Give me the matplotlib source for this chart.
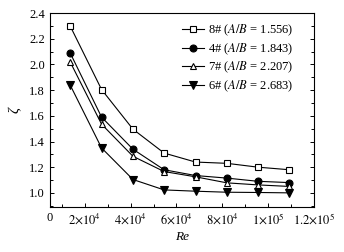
import matplotlib
matplotlib.use("Agg")
import matplotlib.pyplot as plt
from matplotlib.ticker import MultipleLocator, FixedLocator

plt.rcParams['font.family'] = ['Liberation Serif', 'DejaVu Serif']
plt.rcParams['mathtext.fontset'] = 'stix'

re_vals = [1.36e4, 2.73e4, 4.1e4, 5.46e4, 6.83e4, 8.2e4, 9.56e4, 10.93e4]
s8 = [2.30, 1.805, 1.496, 1.31, 1.24, 1.23, 1.20, 1.18]
s4 = [2.09, 1.59, 1.34, 1.18, 1.135, 1.115, 1.09, 1.08]
s7 = [2.02, 1.535, 1.285, 1.166, 1.125, 1.078, 1.062, 1.05]
s6 = [1.84, 1.35, 1.104, 1.023, 1.013, 1.005, 1.003, 1.0]
labels = [r"8# ($A/B$ = 1.556)", r"4# ($A/B$ = 1.843)",
          r"7# ($A/B$ = 2.207)", r"6# ($A/B$ = 2.683)"]
xtick_pos = [4800, 2e4, 4e4, 6e4, 8e4, 1e5, 1.2e5]
xtick_labels = ["0", r"$2{\times}10^4$", r"$4{\times}10^4$", r"$6{\times}10^4$",
                r"$8{\times}10^4$", r"$1{\times}10^5$", r"$1.2{\times}10^5$"]
yticks = [1.0, 1.2, 1.4, 1.6, 1.8, 2.0, 2.2, 2.4]

fig = plt.figure(figsize=(3.44, 2.52), dpi=100)
ax = fig.add_axes([0.1453, 0.1786, 0.7675, 0.7694])

styles = [dict(marker='s', mfc='white'), dict(marker='o', mfc='black'),
          dict(marker='^', mfc='white'), dict(marker='v', mfc='black')]
ms = [4, 5, 4.5, 5.5]
for ys, lab, st, m in zip([s8, s4, s7, s6], labels, styles, ms):
    ax.plot(re_vals, ys, color='black', lw=0.8, mec='black', mew=0.8,
            ms=m, label=lab, **st)

ax.set_xlim(4800, 1.2e5)
ax.set_ylim(0.89, 2.4)
ax.xaxis.set_major_locator(FixedLocator(xtick_pos))
ax.set_xticklabels(xtick_labels)
ax.xaxis.set_minor_locator(MultipleLocator(1e4))
ax.set_yticks(yticks)
ax.set_yticklabels([f"{v:.1f}" for v in yticks])
ax.yaxis.set_minor_locator(MultipleLocator(0.1))
ax.tick_params(axis='both', which='both', direction='in', labelsize=9,
               width=0.7, right=True, top=False)
ax.tick_params(which='major', length=3)
ax.tick_params(which='minor', length=2)
for sp in ax.spines.values():
    sp.set_linewidth(0.8)

ax.set_xlabel("Re", fontstyle='italic', fontsize=9.5, labelpad=3)
ax.set_ylabel("ζ", fontstyle='italic', fontsize=10.5, labelpad=6)

ax.legend(loc='upper left', bbox_to_anchor=(0.5, 0.95), frameon=False,
          fontsize=9, handlelength=1.8, handletextpad=0.3,
          labelspacing=0.25, borderaxespad=0, borderpad=0)

fig.savefig("out.png", dpi=100)
